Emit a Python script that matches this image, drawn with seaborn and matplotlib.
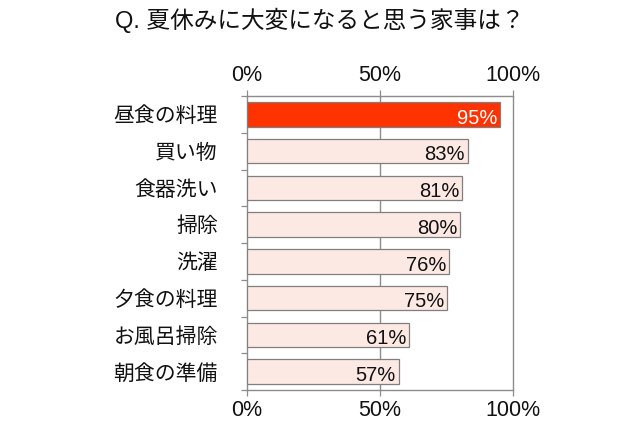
import matplotlib
matplotlib.use("Agg")
import matplotlib.pyplot as plt
import seaborn as sns
import pandas as pd
from matplotlib.ticker import FixedLocator

categories = ["昼食の料理", "買い物", "食器洗い", "掃除", "洗濯", "夕食の料理", "お風呂掃除", "朝食の準備"]
values = [95, 83, 81, 80, 76, 75, 61, 57]
tick_vals = [0, 50, 100]
tick_labels = ["0%", "50%", "100%"]
title = "Q. 夏休みに大変になると思う家事は？"

sns.set_theme(style="white")
plt.rcParams['font.family'] = ['Liberation Sans', 'Noto Sans CJK JP', 'DejaVu Sans']

df = pd.DataFrame({"cat": categories, "val": values})
colors = ["#FF3300"] + ["#FDE9E3"] * (len(categories) - 1)

fig = plt.figure(figsize=(6.4, 4.26), dpi=100)
ax = fig.add_axes([247/640, 1-390/426, (513-247)/640, (390-96)/426])

sns.barplot(data=df, x="val", y="cat", hue="cat", palette=colors, legend=False,
            orient="h", width=0.66, saturation=1, edgecolor="#7f7f7f", linewidth=0.9,
            ax=ax, zorder=3)

ax.set_xlim(0, 100)
ax.set_ylim(len(categories) - 0.5, -0.5)
ax.set_xlabel("")
ax.set_ylabel("")

# grid
for v in tick_vals[1:]:
    ax.axvline(v, color="#8c8c8c", lw=1.0, zorder=1, clip_on=False)

ax.set_xticks(tick_vals)
ax.set_xticklabels(tick_labels, fontsize=15.5)
ax.tick_params(axis="x", which="both", top=True, bottom=True, labeltop=True, labelbottom=True,
               direction="out", length=4, color="#8c8c8c", width=0.9, pad=3.5)
ax.tick_params(axis="y", which="major", length=0, pad=21, labelsize=15)
ax.yaxis.set_minor_locator(FixedLocator([i + 0.5 for i in range(-1, len(categories))]))
ax.tick_params(axis="y", which="minor", left=True, length=4, color="#8c8c8c", width=0.9, direction="out")
for lab in ax.get_yticklabels():
    lab.set_color("#111111")
for lab in ax.get_xticklabels():
    lab.set_color("#111111")

for s in ["top", "bottom", "left"]:
    ax.spines[s].set_visible(True)
    ax.spines[s].set_color("#8c8c8c")
    ax.spines[s].set_linewidth(1.0)
ax.spines["right"].set_visible(False)

for i, v in enumerate(values):
    ax.text(v - 1.0, i + 0.1, f"{v}%", ha="right", va="center", fontsize=14.5,
            color="white" if i == 0 else "#111111", zorder=5)

fig.text(0.5, 1 - 20/426, title, ha="center", va="center", fontsize=17, color="#111111")

fig.savefig("out.png", dpi=100)
